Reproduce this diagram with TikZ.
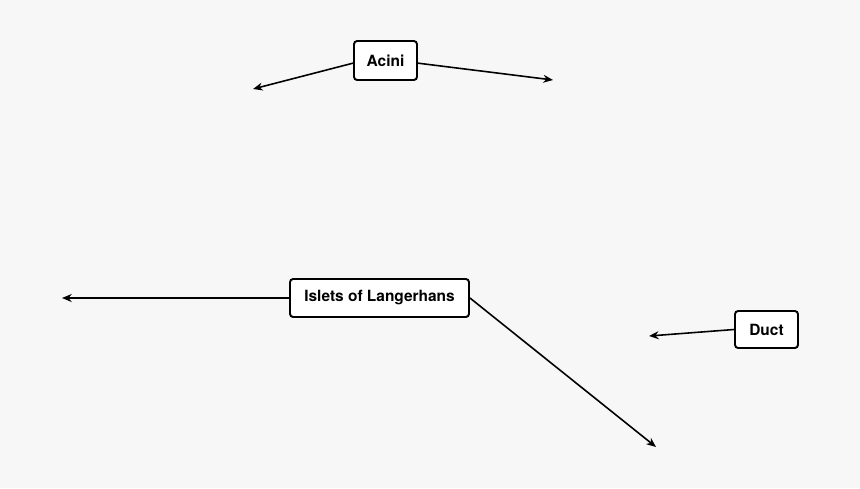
\documentclass[tikz,border=0pt]{standalone}
\usepackage{fontspec}
\setmainfont{TeX Gyre Heros}
\usepackage{xcolor}
\usepackage{tikz}
\usetikzlibrary{positioning, arrows.meta}

\definecolor{bggray}{HTML}{F7F7F7}

\begin{document}
\begin{tikzpicture}[
    x=0.02cm, y=-0.02cm,
    every node/.style={font=\fontsize{8.8}{10}\selectfont\bfseries},
    part/.style={draw, rounded corners=1.8pt, fill=white, line width=1.1pt, inner sep=0pt, minimum height=#1},
    arrow/.style={-{Stealth[length=5.5pt, width=4.5pt]}, line width=0.9pt},
  ]

  % ---- Background ----
  \fill[bggray] (0,0) rectangle (860,488);

  % ---- Labels ----
  \node[part=0.78cm, minimum width=1.26cm] (acini) at (385.5,60.5) {Acini};
  \node[part=0.76cm, minimum width=3.58cm] (islets) at (379.5,298) {Islets of Langerhans};
  \node[part=0.74cm, minimum width=1.26cm] (duct) at (766.5,329.5) {Duct};

  % ---- Pointer ends ----
  \coordinate (aciniL) at (253,89);
  \coordinate (aciniR) at (553,80);
  \coordinate (isletsL) at (62,298);
  \coordinate (isletsR) at (656,447);
  \coordinate (ductL) at (649,336);

  % ---- Arrows ----
  \draw[arrow] ([yshift=-1.5]acini.west) -- (aciniL);
  \draw[arrow] ([yshift=-1.5]acini.east) -- (aciniR);
  \draw[arrow] (islets.west) -- (isletsL);
  \draw[arrow] (islets.east) -- (isletsR);
  \draw[arrow] (duct.west) -- (ductL);

\end{tikzpicture}
\end{document}
